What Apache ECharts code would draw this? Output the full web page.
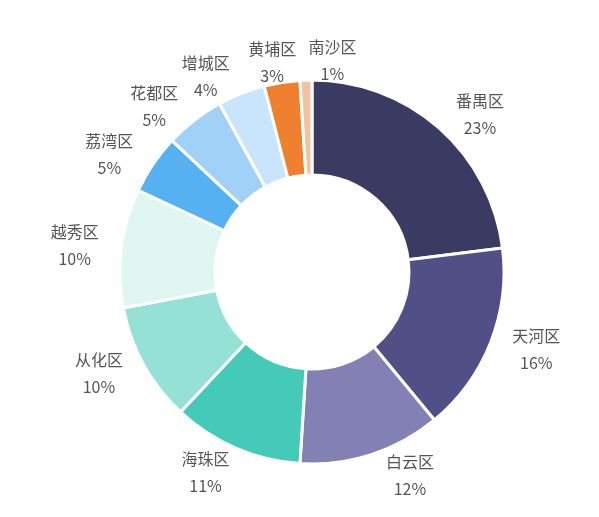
<!DOCTYPE html>
<html><head><meta charset="utf-8">
<script src="https://cdn.jsdelivr.net/npm/echarts@6/dist/echarts.min.js"></script>
<style>html,body{margin:0;padding:0;background:#fff}#c{width:599px;height:517px}</style>
</head><body><div id="c"></div>
<script>
const names = ['番禺区','天河区','白云区','海珠区','从化区','越秀区','荔湾区','花都区','增城区','黄埔区','南沙区'];
const values = [23,16,12,11,10,10,5,5,4,3,1];
const colors = ['#3b3a63','#524f87','#8380b3','#45cab8','#95e1d6','#dff6f1','#55b1f2','#a2d1f7','#c9e5fb','#ef8030','#f2c3a0'];
const chart = echarts.init(document.getElementById('c'));
const nudge = {'黄埔区':[22,-2],'南沙区':[56,-2],'海珠区':[6,8],'白云区':[4,4]};
chart.setOption({
  animation:false,
  color: colors,
  series:[{
    type:'pie',
    center:[312,272],
    radius:[97,192],
    startAngle:90,
    clockwise:true,
    avoidLabelOverlap:false,
    itemStyle:{borderColor:'#fff',borderWidth:3},
    label:{show:true,position:'outside',formatter:'{b}\n{c}%',color:'#555',fontSize:16,lineHeight:27,
      fontFamily:'"Noto Sans CJK SC","Microsoft YaHei",sans-serif'},
    labelLine:{show:false,length:18,length2:0},
    labelLayout:function(p){
      const n = nudge[names[p.dataIndex]] || [0,0];
      return {x:p.labelRect.x+p.labelRect.width/2+n[0],y:p.labelRect.y+p.labelRect.height/2+n[1],align:'center',verticalAlign:'middle'};
    },
    data: names.map((n,i)=>({name:n,value:values[i]}))
  }]
});
</script></body></html>
